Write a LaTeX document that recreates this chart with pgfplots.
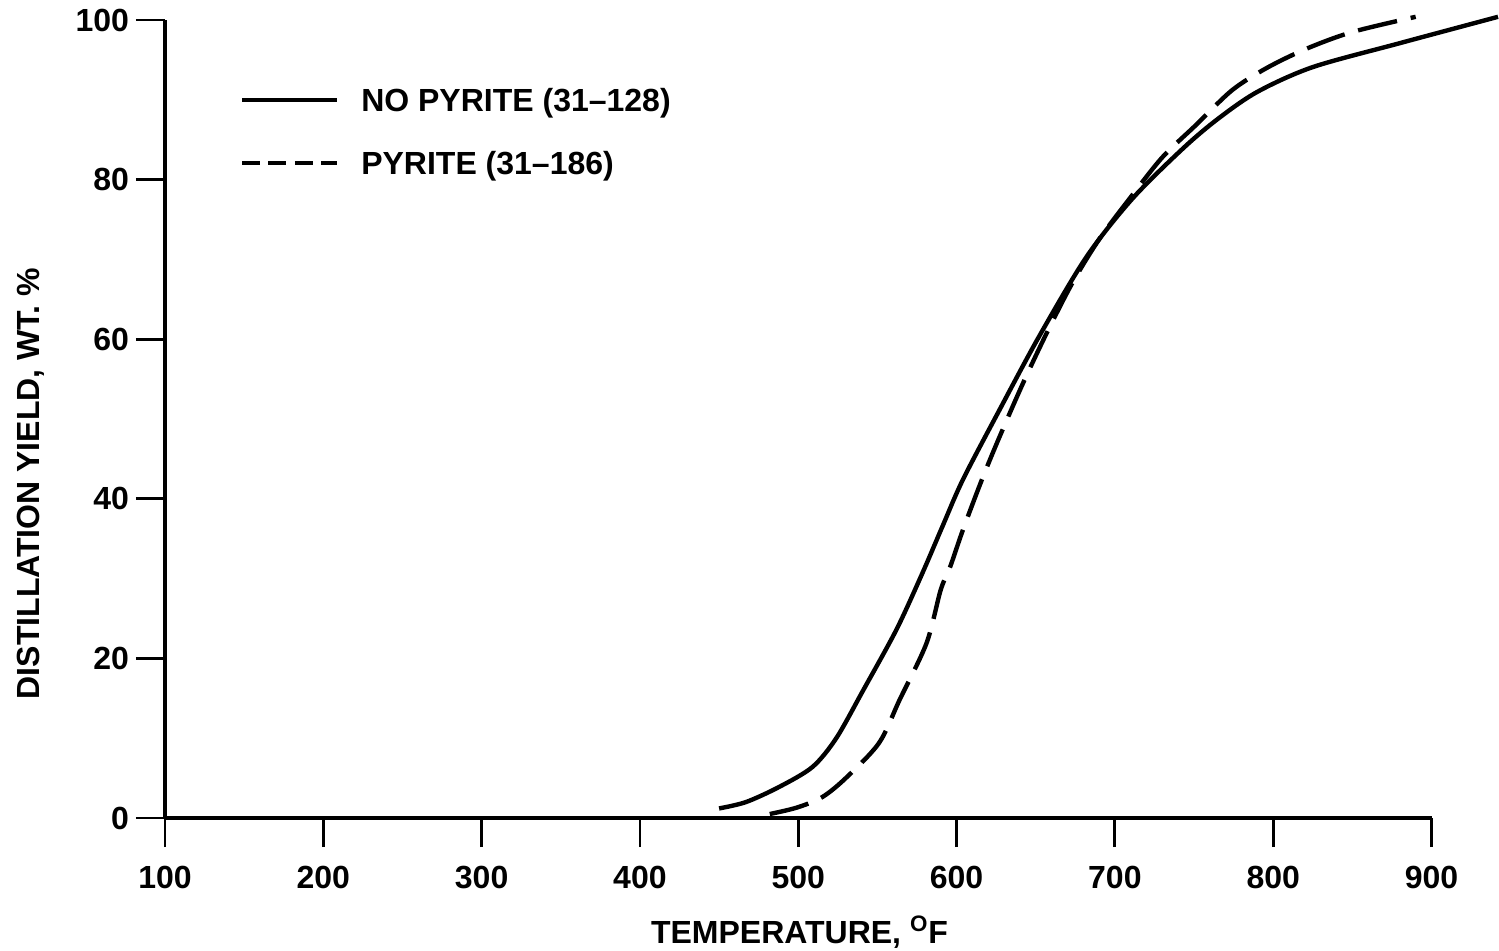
\documentclass[border=0pt]{standalone}
\usepackage{pgfplots}
\usepackage{pgfplotstable}
\pgfplotsset{compat=1.18}
\usepackage{fontspec}
\setmainfont{Liberation Sans}

% Distillation yield (wt. %) against temperature (deg F)
\pgfplotstableread{
T   Y
450 1.2
467 2.0
488 3.9
509 6.4
524 10.0
541 16.0
562 23.6
578 30.5
591 36.5
604 42.4
627 51.1
652 60.3
682 70.3
711 77.6
743 83.9
765 87.6
790 91.0
825 94.1
880 97.1
942 100.4
}\nopyrite

\pgfplotstableread{
T   Y
482 0.5
499 1.3
515 2.6
530 5.0
551 9.4
564 14.8
581 21.9
590 28.6
596 31.5
604 36.1
616 42.4
627 47.7
642 54.5
657 60.8
673 67.0
690 72.5
710 77.8
730 82.8
751 86.8
774 91.2
796 94.0
821 96.4
850 98.5
890 100.4
}\pyrite

\begin{document}
\begin{tikzpicture}
\begin{axis}[
  scale only axis,
  width=666.5pt, height=399pt,
  xmin=100, xmax=942, ymin=0, ymax=100,
  clip=false,
  axis lines=left,
  axis line style={line width=1.6pt, -},
  x axis line style={draw=none},
  xtick={100,200,...,900},
  ytick={0,20,...,100},
  tick align=outside,
  major tick length=14.5pt,
  tick style={line width=1.4pt, black},
  /pgf/number format/assume math mode=true,
  ticklabel style={font=\fontsize{16}{16}\selectfont\bfseries},
  xticklabel style={yshift=-6pt},
  every axis x label/.style={at={(axis description cs:0.476,0)}, yshift=-57pt, anchor=center},
  every axis y label/.style={at={(axis description cs:0,0.419)}, xshift=-67pt, rotate=90, anchor=center},
  label style={font=\fontsize{16}{16}\selectfont\bfseries},
  xlabel={TEMPERATURE, \textsuperscript{O}F},
  ylabel={DISTILLATION YIELD, WT. \%},
  legend cell align=left,
  legend style={draw=none, fill=none, inner sep=0pt, outer sep=0pt,
    at={(axis cs:147.3,91.44)}, anchor=north west,
    column sep=11pt, row sep=19.8pt,
    nodes={inner sep=0pt, text height=11.7pt, text depth=0pt,
      font=\fontsize{16}{16}\selectfont\bfseries}},
  legend image code/.code={\draw[#1] (0pt,0pt) -- (47.5pt,0pt);},
]
\addplot[black, line width=2.2pt, smooth, tension=0.5] table[x=T, y=Y] {\nopyrite};
\addlegendentry{NO PYRITE (31--128)}
\addplot[black, line width=2.2pt, smooth, tension=0.5, dash pattern=on 20pt off 7pt,
  legend image post style={dash pattern=on 9pt off 4.2pt}] table[x=T, y=Y] {\pyrite};
\addlegendentry{PYRITE (31--186)}
\draw[line width=1.6pt] (axis cs:100,0) -- (axis cs:900,0);
\end{axis}
\pgfresetboundingbox
\useasboundingbox (-82.5pt,-66pt) rectangle (667pt,409pt);
\end{tikzpicture}
\end{document}
